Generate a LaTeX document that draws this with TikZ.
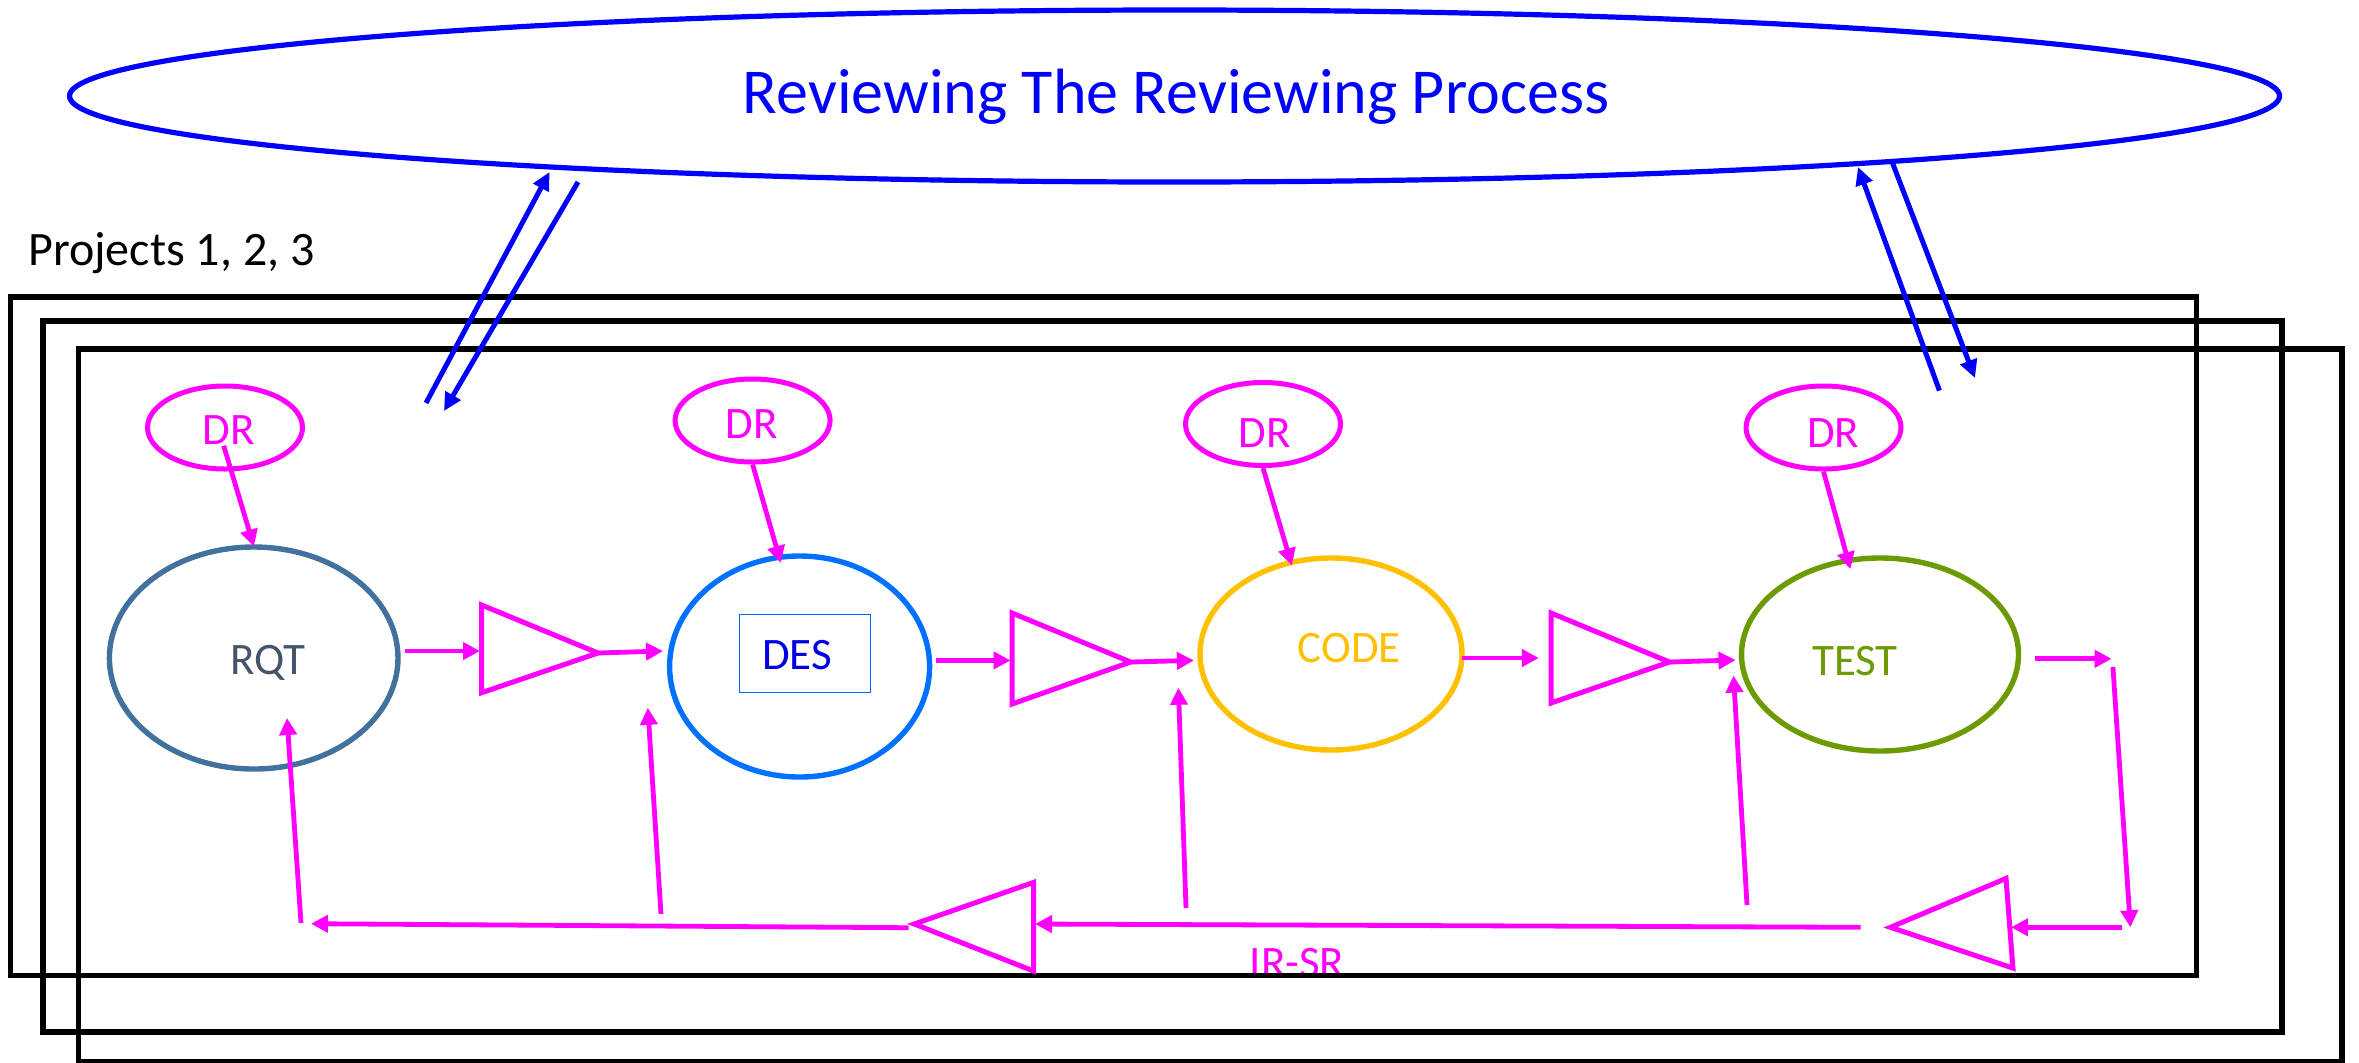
\documentclass[tikz,border=0pt]{standalone}
\usepackage{fontspec}
\setmainfont{Carlito}
\usetikzlibrary{arrows.meta,shapes.geometric}
\definecolor{mag}{HTML}{FF00FF}
\definecolor{bluet}{HTML}{0000FF}
\definecolor{rqtline}{HTML}{41719C}
\definecolor{rqttext}{HTML}{44546A}
\definecolor{desline}{HTML}{0070FF}
\definecolor{destext}{HTML}{0000E6}
\definecolor{desbox}{HTML}{0066FF}
\definecolor{codecol}{HTML}{FFC000}
\definecolor{testcol}{HTML}{6B9B00}
\begin{document}
\begin{tikzpicture}[x=0.5pt,y=-0.5pt,
  txt/.style={anchor=base, inner sep=0pt, font=\fontsize{22.5pt}{22.5pt}\selectfont},
  frame/.style={draw=black, line width=2.75pt},
  drnode/.style={ellipse, draw=mag, line width=2.5pt, minimum width=77.5pt, minimum height=41.5pt, inner sep=0pt},
  stage/.style={ellipse, line width=2.7pt, inner sep=0pt},
  tri/.style={draw=mag, line width=2.5pt, line join=miter},
  arr/.style={draw=mag, line width=2.4pt, -{Triangle[length=8.5pt,width=8.5pt]}},
  barr/.style={draw=bluet, line width=2.5pt, -{Triangle[length=9pt,width=8.5pt]}}]
\useasboundingbox (0,0) rectangle (2359,1062);

% title ellipse
\node[ellipse, draw=bluet, line width=2.6pt, minimum width=1105pt, minimum height=86pt, inner sep=0pt] (title) at (1174.5,96) {};
\node[txt, text=bluet, font=\fontsize{32pt}{32pt}\selectfont] (titletext) at (1176,113.3) {Reviewing The Reviewing Process};

% projects label
\node[txt, anchor=base west, text=black, font=\fontsize{24pt}{24pt}\selectfont] (projects) at (28,265) {Projects 1, 2, 3};

% bottom label (drawn before frames)
\node[txt, text=mag] (irsr) at (1297,977) {IR-SR};

% frames
\draw[frame] (10.5,297) rectangle (2196.5,975.5);
\draw[frame] (43,321) rectangle (2282,1032);
\draw[frame] (78.5,349) rectangle (2342,1062);

% DR ellipses
\node[drnode] (dr1) at (225,427.5) {};
\node[drnode] (dr2) at (752.6,420.5) {};
\node[drnode] (dr3) at (1263,424) {};
\node[drnode] (dr4) at (1823.5,427.5) {};
\node[txt, text=mag] (dr1t) at (228.6,444.5) {DR};
\node[txt, text=mag] (dr2t) at (751.8,438.4) {DR};
\node[txt, text=mag] (dr3t) at (1265,447.8) {DR};
\node[txt, text=mag] (dr4t) at (1833.3,447.8) {DR};

% stage ellipses
\node[stage, draw=rqtline, minimum width=144.3pt, minimum height=111pt] (rqt) at (253.7,658) {};
\node[stage, draw=desline, minimum width=130pt, minimum height=110.5pt] (des) at (799.6,666.5) {};
\node[stage, draw=codecol, minimum width=131pt, minimum height=96pt] (code) at (1331,654) {};
\node[stage, draw=testcol, minimum width=138.5pt, minimum height=96.5pt] (test) at (1880,654.5) {};
\node[txt, text=rqttext] (rqtt) at (267.7,674.3) {RQT};
\node[draw=desbox, line width=0.6pt, minimum width=65.3pt, minimum height=38.95pt, inner sep=0pt] (desb) at (804.9,653.65) {};
\node[txt, text=destext] (dest) at (797.1,669.4) {DES};
\node[txt, text=codecol] (codet) at (1349.3,662) {CODE};
\node[txt, text=testcol] (testt) at (1855,675.5) {TEST};

% triangles
\coordinate (t1a) at (481.6,605); \coordinate (t1b) at (481.6,692.7); \coordinate (t1c) at (598,653);
\coordinate (t2a) at (1012,613); \coordinate (t2b) at (1012,704); \coordinate (t2c) at (1130.6,662);
\coordinate (t3a) at (1551,613); \coordinate (t3b) at (1551,703); \coordinate (t3c) at (1669.4,662);
\coordinate (t5a) at (1033.5,882.4); \coordinate (t5b) at (1033.5,971); \coordinate (t5c) at (914.3,924);
\coordinate (t6a) at (2006,878.4); \coordinate (t6b) at (2012.9,968); \coordinate (t6c) at (1890.4,927.3);
\draw[tri] (t1a) -- (t1b) -- (t1c) -- cycle;
\draw[tri] (t2a) -- (t2b) -- (t2c) -- cycle;
\draw[tri] (t3a) -- (t3b) -- (t3c) -- cycle;
\draw[tri] (t5a) -- (t5b) -- (t5c) -- cycle;
\draw[tri] (t6a) -- (t6b) -- (t6c) -- cycle;

% free ends
\coordinate (a1s) at (405,651);    \coordinate (a1e) at (480,651);
\coordinate (a2e) at (663,651);
\coordinate (a3s) at (935.5,660.4); \coordinate (a3e) at (1010.5,660.4);
\coordinate (a4e) at (1193.9,660.4);
\coordinate (a5s) at (1462,658);   \coordinate (a5e) at (1538.8,658);
\coordinate (a6e) at (1735.5,660);
\coordinate (a7s) at (2035.3,658.8); \coordinate (a7e) at (2111.6,658.8);
\coordinate (a8s) at (2112.9,667); \coordinate (a8e) at (2130.4,927.3);
\coordinate (a9s) at (2121.9,927.3); \coordinate (a9e) at (2011,927.3);
\coordinate (a10s) at (1860.6,927.3); \coordinate (a10e) at (1035,924);
\coordinate (a11s) at (908.7,927.7); \coordinate (a11e) at (311,923.7);
\coordinate (f1s) at (301,923);  \coordinate (f1e) at (287,718);
\coordinate (f2s) at (661,914);  \coordinate (f2e) at (647.8,707.8);
\coordinate (f3s) at (1186,908); \coordinate (f3e) at (1178.4,687.8);
\coordinate (f4s) at (1747,905); \coordinate (f4e) at (1733.5,675.5);
\coordinate (d1s) at (223.7,445.7); \coordinate (d1e) at (253.9,546.5);
\coordinate (d2e) at (780.8,562.9);
\coordinate (d3e) at (1291.8,565.3);
\coordinate (d4e) at (1850.4,569);
\coordinate (b1s) at (426,403);   \coordinate (b1e) at (549.5,172);
\coordinate (b2s) at (578,182);   \coordinate (b2e) at (444,411);
\coordinate (b3s) at (1939.4,390.6); \coordinate (b3e) at (1858,167);
\coordinate (b4s) at (1892.5,163); \coordinate (b4e) at (1975,378);

% forward flow
\draw[arr] (a1s) -- (a1e);
\draw[arr] (t1c) -- (a2e);
\draw[arr] (a3s) -- (a3e);
\draw[arr] (t2c) -- (a4e);
\draw[arr] (a5s) -- (a5e);
\draw[arr] (t3c) -- (a6e);
\draw[arr] (a7s) -- (a7e);
\draw[arr] (a8s) -- (a8e);
\draw[arr] (a9s) -- (a9e);
\draw[arr] (a10s) -- (a10e);
\draw[arr] (a11s) -- (a11e);
% feedback
\draw[arr] (f1s) -- (f1e);
\draw[arr] (f2s) -- (f2e);
\draw[arr] (f3s) -- (f3e);
\draw[arr] (f4s) -- (f4e);
% design reviews
\draw[arr] (d1s) -- (d1e);
\draw[arr] (dr2.south) -- (d2e);
\draw[arr] (dr3.south) -- (d3e);
\draw[arr] (dr4.south) -- (d4e);
% review of review
\draw[barr] (b1s) -- (b1e);
\draw[barr] (b2s) -- (b2e);
\draw[barr] (b3s) -- (b3e);
\draw[barr] (b4s) -- (b4e);
\end{tikzpicture}
\end{document}
